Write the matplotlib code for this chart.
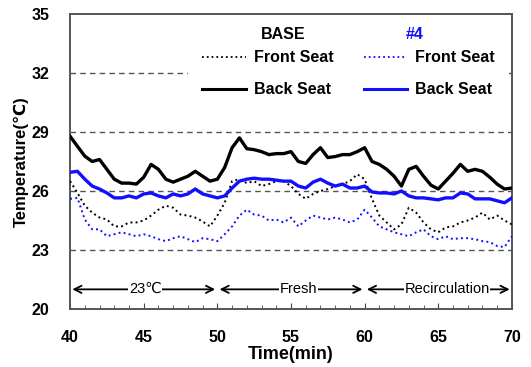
import numpy as np
import matplotlib
matplotlib.use("Agg")
import matplotlib.pyplot as plt
from matplotlib.lines import Line2D

plt.rcParams['font.family'] = ['Liberation Sans', 'DejaVu Sans']

# time axis, every half minute
time = np.arange(40, 70.01, 0.5)

base_back = [28.78, 28.27, 27.77, 27.5, 27.6, 27.1, 26.6, 26.4, 26.4, 26.35,
             26.7, 27.35, 27.1, 26.6, 26.45, 26.6, 26.75, 27.0, 26.75, 26.5,
             26.6, 27.2, 28.2, 28.7, 28.15, 28.1, 28.0, 27.85, 27.9, 27.9,
             28.0, 27.5, 27.4, 27.85, 28.2, 27.7, 27.75, 27.85, 27.85, 28.0,
             28.2, 27.5, 27.35, 27.1, 26.75, 26.25, 27.1, 27.25, 26.75, 26.3,
             26.1, 26.5, 26.9, 27.35, 27.0, 27.1, 27.0, 26.7, 26.35, 26.1,
             26.15]
base_front = [26.5, 25.9, 25.25, 24.9, 24.65, 24.55, 24.2, 24.2, 24.4, 24.4,
              24.5, 24.75, 25.05, 25.25, 25.15, 24.8, 24.75, 24.65, 24.45, 24.2,
              24.75, 25.4, 26.5, 26.6, 26.4, 26.5, 26.25, 26.35, 26.5, 26.5,
              26.25, 25.85, 25.6, 25.85, 26.0, 26.1, 26.25, 26.35, 26.5, 26.85,
              26.6, 25.6, 24.75, 24.4, 24.05, 24.3, 25.15, 24.9, 24.4, 24.05,
              23.9, 24.15, 24.2, 24.4, 24.5, 24.65, 24.9, 24.55, 24.75, 24.5,
              24.3]
n4_back = [26.95, 27.0, 26.6, 26.25, 26.1, 25.9, 25.65, 25.65, 25.75, 25.65,
           25.85, 25.9, 25.75, 25.65, 25.85, 25.75, 25.85, 26.1, 25.85, 25.75,
           25.65, 25.75, 26.15, 26.5, 26.6, 26.65, 26.6, 26.6, 26.55, 26.5,
           26.5, 26.25, 26.15, 26.45, 26.6, 26.4, 26.25, 26.35, 26.15, 26.15,
           26.25, 25.95, 25.9, 25.9, 25.85, 26.0, 25.75, 25.65, 25.65, 25.6,
           25.55, 25.65, 25.65, 25.9, 25.85, 25.6, 25.6, 25.6, 25.5, 25.4,
           25.65]
n4_front = [25.6, 25.65, 24.55, 24.05, 24.05, 23.7, 23.8, 23.9, 23.8, 23.7,
            23.8, 23.7, 23.55, 23.45, 23.6, 23.7, 23.55, 23.4, 23.6, 23.55,
            23.45, 23.8, 24.2, 24.75, 25.05, 24.8, 24.75, 24.5, 24.55, 24.4,
            24.65, 24.2, 24.5, 24.75, 24.65, 24.55, 24.65, 24.55, 24.4, 24.55,
            25.05, 24.65, 24.2, 24.05, 23.9, 23.8, 23.7, 23.9, 24.05, 23.7,
            23.55, 23.7, 23.55, 23.6, 23.6, 23.55, 23.45, 23.4, 23.2, 23.15,
            23.7]

grid_levels = [23, 26, 29, 32]
phases = [(40, 50, "23\u2103", 45.1), (50, 60, "Fresh", 55.5),
          (60, 70, "Recirculation", 65.6)]

fig = plt.figure(figsize=(5.31, 3.67), dpi=100)
ax = fig.add_axes([0.132, 0.158, 0.832, 0.804])

for g in grid_levels:
    ax.axhline(g, color='#555555', lw=1.0, ls=(0, (4, 3)), zorder=1)

ax.plot(time, base_front, color='black', lw=1.4, ls=':', zorder=3)
ax.plot(time, n4_front, color='#1010ff', lw=1.4, ls=':', zorder=3)
ax.plot(time, base_back, color='black', lw=2.4, zorder=4)
ax.plot(time, n4_back, color='#1010ff', lw=2.4, zorder=4)

for t0, t1, label, tc in phases:
    ax.annotate("", xy=(t0 + 0.15, 21), xytext=(t1 - 0.15, 21),
                arrowprops=dict(arrowstyle='<->', color='black', lw=1.3,
                                mutation_scale=13, shrinkA=0, shrinkB=0))
    ax.text(tc, 21, label, ha='center', va='center', fontsize=10.5,
            bbox=dict(facecolor='white', edgecolor='none', pad=0.5), zorder=5)

ax.set_xlim(40, 70)
ax.set_ylim(20, 35)
ax.set_xticks(range(40, 71, 5))
ax.set_xticks(range(40, 71, 1), minor=True)
ax.set_yticks(range(20, 36, 3))
ax.tick_params(axis='x', which='both', direction='in', labelsize=11.5,
               pad=15, color='#444444')
ax.tick_params(axis='x', which='major', length=4)
ax.tick_params(axis='x', which='minor', length=3)
ax.tick_params(axis='y', length=0, labelsize=11.5, pad=15)
for lab in ax.get_xticklabels() + ax.get_yticklabels():
    lab.set_fontweight('bold')
for sp in ax.spines.values():
    sp.set_color('#555555')
    sp.set_linewidth(1.4)

ax.set_xlabel("Time(min)", fontsize=13, fontweight='bold', labelpad=1)
ax.set_ylabel("Temperature(\u2103)", fontsize=12, fontweight='bold', labelpad=2)

handles = [Line2D([], [], color='black', lw=1.3, ls=':'),
           Line2D([], [], color='black', lw=2.2),
           Line2D([], [], color='#1010ff', lw=1.3, ls=':'),
           Line2D([], [], color='#1010ff', lw=2.2)]
labels = ["Front Seat", "Back Seat", "Front Seat", "Back Seat"]
leg = ax.legend(handles, labels, ncol=2, loc='upper left',
                bbox_to_anchor=(0.267, 0.925), borderaxespad=0,
                frameon=True, fancybox=False, framealpha=1,
                prop={'size': 11.5, 'weight': 'bold'},
                handlelength=2.75, handletextpad=0.45, columnspacing=1.9,
                labelspacing=1.06, borderpad=0.9)
leg.get_frame().set_edgecolor('none')
leg.set_zorder(6)

ax.text(0.482, 0.932, "BASE", transform=ax.transAxes, ha='center',
        va='center', fontsize=11.5, fontweight='bold', zorder=7)
ax.text(0.78, 0.932, "#4", transform=ax.transAxes, ha='center',
        va='center', fontsize=11.5, fontweight='bold', color='#1010ff', zorder=7)

fig.savefig("out.png", dpi=100)
